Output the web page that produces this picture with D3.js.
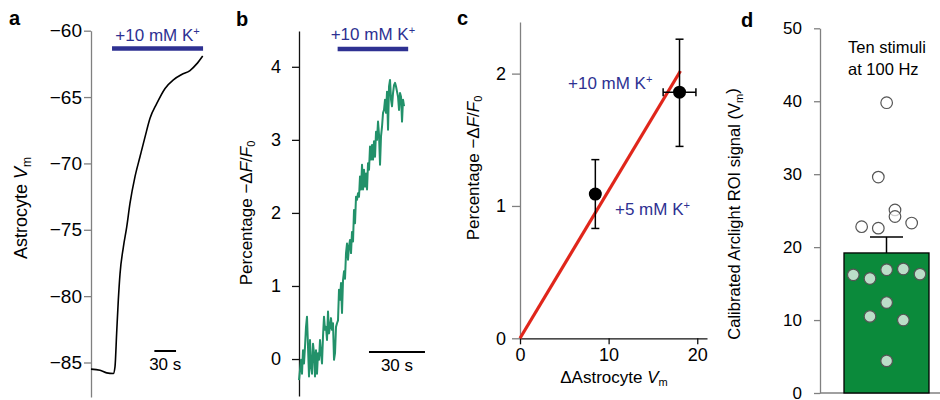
<!DOCTYPE html>
<html>
<head>
<meta charset="utf-8">
<script src="https://cdn.jsdelivr.net/npm/d3@7"></script>
<style>
  body { margin: 0; background: #fff; }
  text { font-family: "Liberation Sans", Arial, sans-serif; }
</style>
</head>
<body>
<svg id="fig" width="940" height="400"></svg>
<script>
// ---- data ----

// a: astrocyte membrane potential (mV) vs time (s)
const timeA = [0, 12.5, 21.7, 30.9, 33.2, 35.5, 37.8, 40.2, 44.8, 49.4, 54.0, 60.9, 67.8, 74.8, 81.7, 90.9, 102.5, 114, 125.5, 137, 146.3, 154.6];
const vmA = [-85.5, -85.58, -85.78, -85.83, -85.33, -82.8, -80.3, -78.3, -76.3, -74.8, -73.0, -71.0, -69.5, -68.0, -66.6, -65.5, -64.35, -63.7, -63.3, -63.0, -62.5, -61.9];
const ticksA = [-85, -80, -75, -70, -65, -60];
const drugA = [29.1, 155.1];
const scaleBarA = [87.7, 117.7];

// b: percentage -dF/F0, one sample every dtB seconds
const dtB = 0.536;
const dffB = [-0.29, -0.15, -0.01, -0.20, 0.12, -0.06, 0.17, 0.44, 0.58, 0.17, -0.24, 0.26, -0.10, -0.20, 0.21,
  0.08, -0.24, 0.12, -0.20, 0.08, -0.01, 0.26, 0.08, -0.06, 0.31, 0.58, 0.40, 0.44, 0.26, 0.65, 0.35, 0.44,
  0.56, 0.40, 0.49, -0.01, 0.08, 0.44, 0.49, 0.53, 0.95, 0.81, 1.04, 0.63, 1.08, 1.20,
  1.10, 1.45, 1.58, 1.36, 1.54, 1.63, 1.45, 1.74, 1.61, 2.04, 1.86, 2.22, 2.18, 2.27, 2.22, 2.50, 2.32, 2.66,
  2.32, 2.59, 2.36, 2.54, 2.32, 2.68, 2.59, 2.91, 2.73, 2.93, 2.73, 2.98, 2.77, 3.11, 3.00, 3.25, 3.07, 2.66,
  3.05, 3.18, 3.37, 3.41, 3.55, 3.37, 3.66, 3.14, 3.73, 3.82, 3.55, 3.46, 3.64, 3.75, 3.78, 3.73, 3.66, 3.59,
  3.41, 3.64, 3.59, 3.25, 3.55, 3.46];
const ticksB = [0, 1, 2, 3, 4];
const drugB = [20.7, 58.5];
const scaleBarB = [37.5, 67.5];

// c: -dF/F0 vs change in astrocyte Vm
const labelsC = ["+5 mM K", "+10 mM K"];
const dVmC = [8.5, 18.0];
const dVmErrC = [0.5, 1.85];
const dffC = [1.09, 1.86];
const dffLoC = [0.83, 1.45];
const dffHiC = [1.35, 2.26];
const fitX = [0, 18.1];
const fitY = [0, 2.02];
const ticksCx = [0, 10, 20];
const ticksCy = [0, 1, 2];

// d: calibrated Arclight ROI signal, ten stimuli at 100 Hz
const meanD = 19.2;
const semD = 2.2;
const cellsD = [39.8, 29.6, 25.1, 24.2, 22.8, 22.6, 23.3, 16.2, 15.7, 16.9, 17.0, 16.3, 12.4, 10.5, 10.0, 4.4];
const slotsD = [0, -0.5, 0.5, 0.5, -1.5, -0.5, 1.5, -2, -1, 0, 1, 2, 0, -1, 1, 0];
const ticksD = [0, 10, 20, 30, 40, 50];

const blue = "#2e3192";
const grey = "#808080";

const svg = d3.select("#fig");

function styleAxis(g, colour, size) {
  g.select(".domain").attr("stroke", colour).attr("stroke-width", 1.3);
  g.selectAll(".tick line").attr("stroke", colour).attr("stroke-width", 1.3);
  g.selectAll(".tick text").attr("fill", "#000").style("font-size", size + "px")
    .style("font-family", '"Liberation Sans", Arial, sans-serif');
}

function kPlus(sel, text) {
  sel.text(text);
  sel.append("tspan").attr("dy", "-0.5em").style("font-size", "0.65em").text("+");
}

function panelLetter(x, y, t) {
  svg.append("text").attr("x", x).attr("y", y).style("font-size", "20px").style("font-weight", "bold").text(t);
}

function dffLabel(x, y) {
  const t = svg.append("text").attr("transform", `translate(${x},${y}) rotate(-90)`)
    .attr("text-anchor", "middle").style("font-size", "17px");
  t.append("tspan").text("Percentage \u2212\u0394");
  t.append("tspan").style("font-style", "italic").text("F");
  t.append("tspan").text("/");
  t.append("tspan").style("font-style", "italic").text("F");
  t.append("tspan").attr("dy", "0.3em").style("font-size", "11px").text("0");
}

const intFmt = d3.format("d");

// ---------- panel a ----------
const aY = d3.scaleLinear().domain([-87.6, -60]).range([397, 30.7]);
const aX = d3.scaleLinear().domain([0, 160]).range([91, 206.6]);

svg.append("g").attr("transform", "translate(91,0)")
  .call(d3.axisLeft(aY).tickValues(ticksA).tickSize(7).tickPadding(2).tickSizeOuter(0))
  .call(g => styleAxis(g, grey, 19));

svg.append("path").datum(d3.zip(timeA, vmA))
  .attr("fill", "none").attr("stroke", "#000").attr("stroke-width", 1.6)
  .attr("d", d3.line().x(d => aX(d[0])).y(d => aY(d[1])).curve(d3.curveMonotoneX));

svg.append("line").attr("x1", aX(drugA[0])).attr("x2", aX(drugA[1]))
  .attr("y1", 48.5).attr("y2", 48.5).attr("stroke", blue).attr("stroke-width", 4.5);
svg.append("text").attr("x", aX((drugA[0] + drugA[1]) / 2)).attr("y", 41)
  .attr("text-anchor", "middle").style("font-size", "17px").style("fill", blue)
  .call(s => kPlus(s, "+10 mM K"));

svg.append("line").attr("x1", aX(scaleBarA[0])).attr("x2", aX(scaleBarA[1]))
  .attr("y1", 351).attr("y2", 351).attr("stroke", "#000").attr("stroke-width", 2);
svg.append("text").attr("x", aX((scaleBarA[0] + scaleBarA[1]) / 2)).attr("y", 370)
  .attr("text-anchor", "middle").style("font-size", "17px").text("30 s");

{
  const t = svg.append("text").attr("transform", "translate(27,208) rotate(-90)")
    .attr("text-anchor", "middle").style("font-size", "18px");
  t.append("tspan").text("Astrocyte ");
  t.append("tspan").style("font-style", "italic").text("V");
  t.append("tspan").attr("dy", "0.3em").style("font-size", "12px").text("m");
}
panelLetter(9, 25, "a");

// ---------- panel b ----------
const bY = d3.scaleLinear().domain([-0.506, 4.49]).range([396, 31]);
const bX = d3.scaleLinear().domain([0, 68]).range([299, 425.9]);

svg.append("g").attr("transform", "translate(299,0)")
  .call(d3.axisLeft(bY).tickValues(ticksB).tickFormat(intFmt).tickSize(7).tickPadding(11).tickSizeOuter(0))
  .call(g => styleAxis(g, "#111", 18));

svg.append("path").datum(dffB)
  .attr("fill", "none").attr("stroke", "#22916a").attr("stroke-width", 2)
  .attr("stroke-linejoin", "round")
  .attr("d", d3.line().x((d, i) => bX(i * dtB)).y(d => bY(d)));

svg.append("line").attr("x1", bX(drugB[0])).attr("x2", bX(drugB[1]))
  .attr("y1", 49).attr("y2", 49).attr("stroke", blue).attr("stroke-width", 4.5);
svg.append("text").attr("x", bX((drugB[0] + drugB[1]) / 2)).attr("y", 40)
  .attr("text-anchor", "middle").style("font-size", "17px").style("fill", blue)
  .call(s => kPlus(s, "+10 mM K"));

svg.append("line").attr("x1", bX(scaleBarB[0])).attr("x2", bX(scaleBarB[1]))
  .attr("y1", 352).attr("y2", 352).attr("stroke", "#000").attr("stroke-width", 2);
svg.append("text").attr("x", bX((scaleBarB[0] + scaleBarB[1]) / 2)).attr("y", 371)
  .attr("text-anchor", "middle").style("font-size", "17px").text("30 s");

dffLabel(252, 213);
panelLetter(236, 26, "b");

// ---------- panel c ----------
const cY = d3.scaleLinear().domain([0, 2.39]).range([338.3, 22]);
const cX = d3.scaleLinear().domain([0, 21.1]).range([520, 707]);

svg.append("g").attr("transform", "translate(520,0)")
  .call(d3.axisLeft(cY).tickValues(ticksCy).tickFormat(intFmt).tickSize(8).tickPadding(6).tickSizeOuter(0))
  .call(g => styleAxis(g, grey, 18));
svg.append("g").attr("transform", "translate(0,338.3)")
  .call(d3.axisBottom(cX).tickValues(ticksCx).tickFormat(intFmt).tickSize(6).tickPadding(4).tickSizeOuter(0))
  .call(g => styleAxis(g, "#111", 18));

svg.append("line").attr("x1", cX(fitX[0])).attr("y1", cY(fitY[0]))
  .attr("x2", cX(fitX[1])).attr("y2", cY(fitY[1]))
  .attr("stroke", "#e0261b").attr("stroke-width", 3.2);

const err = svg.append("g").attr("stroke", "#000").attr("stroke-width", 1.5);
dVmC.forEach((x, i) => {
  err.append("line").attr("x1", cX(x)).attr("x2", cX(x)).attr("y1", cY(dffLoC[i])).attr("y2", cY(dffHiC[i]));
  [dffLoC[i], dffHiC[i]].forEach(v => {
    err.append("line").attr("x1", cX(x) - 4).attr("x2", cX(x) + 4).attr("y1", cY(v)).attr("y2", cY(v));
  });
  err.append("line").attr("x1", cX(x - dVmErrC[i])).attr("x2", cX(x + dVmErrC[i]))
    .attr("y1", cY(dffC[i])).attr("y2", cY(dffC[i]));
  [x - dVmErrC[i], x + dVmErrC[i]].forEach(v => {
    err.append("line").attr("x1", cX(v)).attr("x2", cX(v)).attr("y1", cY(dffC[i]) - 4).attr("y2", cY(dffC[i]) + 4);
  });
});
svg.selectAll(".ptC").data(dVmC).join("circle")
  .attr("cx", d => cX(d)).attr("cy", (d, i) => cY(dffC[i])).attr("r", 6.5).attr("fill", "#000");

svg.append("text").attr("x", 615).attr("y", 215).style("font-size", "17px").style("fill", blue)
  .call(s => kPlus(s, labelsC[0]));
svg.append("text").attr("x", 568).attr("y", 89).style("font-size", "17px").style("fill", blue)
  .call(s => kPlus(s, labelsC[1]));

{
  const t = svg.append("text").attr("x", 614).attr("y", 383)
    .attr("text-anchor", "middle").style("font-size", "17px");
  t.append("tspan").text("\u0394Astrocyte ");
  t.append("tspan").style("font-style", "italic").text("V");
  t.append("tspan").attr("dy", "0.3em").style("font-size", "11px").text("m");
}
dffLabel(479, 168);
panelLetter(457, 25, "c");

// ---------- panel d ----------
const dY = d3.scaleLinear().domain([0, 50]).range([393, 28.3]);
const dSlot = d3.scaleLinear().domain([-2, 2]).range([853.3, 920]);
const barX0 = 844, barX1 = 929, barMid = (barX0 + barX1) / 2;

svg.append("g").attr("transform", "translate(820,0)")
  .call(d3.axisLeft(dY).tickValues(ticksD).tickSize(6).tickPadding(12).tickSizeOuter(0))
  .call(g => styleAxis(g, grey, 17));
svg.append("line").attr("x1", 820).attr("x2", 940).attr("y1", 393).attr("y2", 393)
  .attr("stroke", grey).attr("stroke-width", 1.3);

svg.append("line").attr("x1", barMid).attr("x2", barMid).attr("y1", dY(meanD)).attr("y2", dY(meanD + semD))
  .attr("stroke", "#000").attr("stroke-width", 1.5);
svg.append("line").attr("x1", barMid - 16.5).attr("x2", barMid + 16.5)
  .attr("y1", dY(meanD + semD)).attr("y2", dY(meanD + semD)).attr("stroke", "#000").attr("stroke-width", 1.5);
svg.append("rect").attr("x", barX0).attr("width", barX1 - barX0)
  .attr("y", dY(meanD)).attr("height", dY(0) - dY(meanD))
  .attr("fill", "#0b8a3b").attr("stroke", "#000").attr("stroke-width", 1.3);

svg.selectAll(".dotD").data(cellsD).join("circle")
  .attr("cx", (d, i) => dSlot(slotsD[i])).attr("cy", d => dY(d)).attr("r", 5.8)
  .attr("fill", "#fff").attr("fill-opacity", 0.72).attr("stroke", "#555").attr("stroke-width", 1.2);

svg.append("text").attr("x", 848).attr("y", 53).style("font-size", "16.5px").text("Ten stimuli");
svg.append("text").attr("x", 848).attr("y", 75).style("font-size", "16.5px").text("at 100 Hz");

{
  const t = svg.append("text").attr("transform", "translate(740,214) rotate(-90)")
    .attr("text-anchor", "middle").style("font-size", "16.5px");
  t.append("tspan").text("Calibrated Arclight ROI signal (V");
  t.append("tspan").attr("dy", "0.3em").style("font-size", "11px").text("m");
  t.append("tspan").attr("dy", "-0.3em").text(")");
}
panelLetter(741, 27, "d");
</script>
</body>
</html>
